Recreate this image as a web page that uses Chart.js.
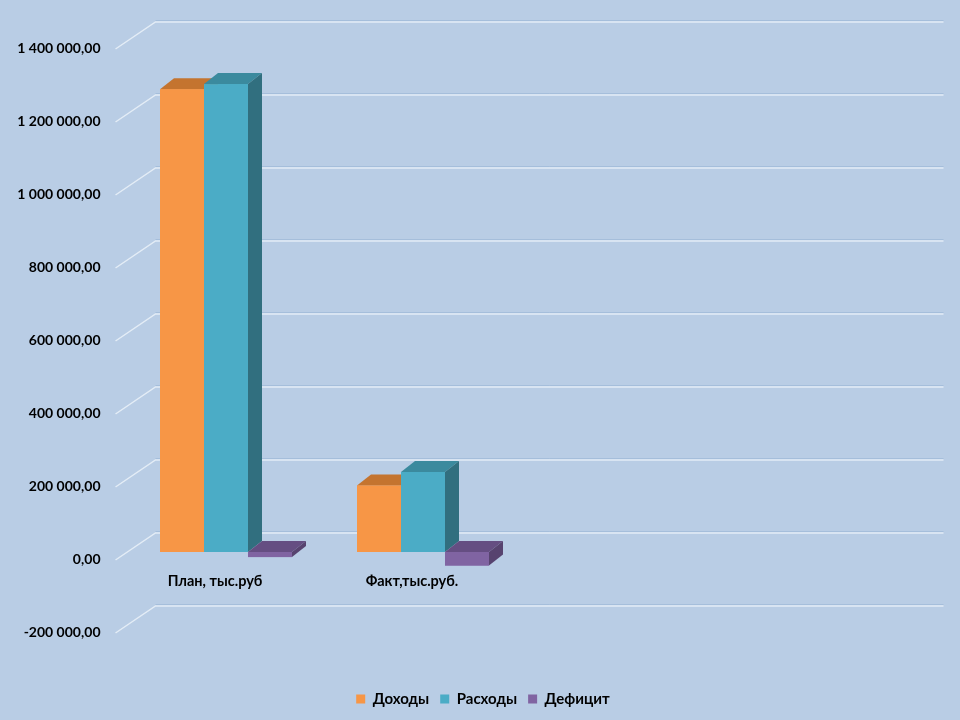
<!DOCTYPE html>
<html>
<head>
<meta charset="utf-8">
<script src="https://cdn.jsdelivr.net/npm/chart.js@4/dist/chart.umd.min.js"></script>
<style>
  html, body { margin: 0; padding: 0; background: #B9CDE5; }
  #wrap { width: 960px; height: 720px; }
</style>
</head>
<body>
<div id="wrap"><canvas id="budgetChart"></canvas></div>
<script>
// data
const categories = ['План, тыс.руб', 'Факт,тыс.руб.', '', ''];
const incomeValues = [1268000, 182000, null, null];
const expenseValues = [1282000, 219000, null, null];
const deficitValues = [-14000, -37000, null, null];
const seriesNames = ['Доходы', 'Расходы', 'Дефицит'];
const yMin = -200000, yMax = 1400000, yStep = 200000;

// front / top / side shades for each series
const faceColors = [
    { front: '#F79646', top: '#C4742F', side: '#B0662A' },
    { front: '#4BACC6', top: '#3B8A9E', side: '#316F7F' },
    { front: '#8064A2', top: '#654E82', side: '#57436F' }
];

// depth of a bar and of the back wall
const barDX = 14, barDY = -11;
const wallBackDX = 28, wallBackDY = -19, wallFrontDX = -12, wallFrontDY = 8;

function fmt(v) {
    const neg = v < 0;
    let s = Math.abs(v).toFixed(0).replace(/\B(?=(\d{3})+(?!\d))/g, ' ');
    return (neg ? '-' : '') + s + ',00';
}

// draws the walls/grid and the 3d sides of the bars
const threeD = {
    id: 'threeD',
    beforeDatasetsDraw(chart) {
        const ctx = chart.ctx, y = chart.scales.y, a = chart.chartArea;
        ctx.save();
        for (let v = yMin; v <= yMax; v += yStep) {
            const py = y.getPixelForValue(v);
            ctx.lineWidth = 1.5;
            ctx.strokeStyle = 'rgba(232,239,247,0.9)';
            ctx.beginPath();
            ctx.moveTo(a.left + wallFrontDX, py + wallFrontDY);
            ctx.lineTo(a.left + wallBackDX, py + wallBackDY);
            ctx.lineTo(a.right + wallBackDX, py + wallBackDY);
            ctx.stroke();
            ctx.strokeStyle = 'rgba(160,186,216,0.8)';
            ctx.lineWidth = 1;
            ctx.beginPath();
            ctx.moveTo(a.left + wallBackDX, py + wallBackDY - 1.5);
            ctx.lineTo(a.right + wallBackDX, py + wallBackDY - 1.5);
            ctx.stroke();
        }
        ctx.restore();
    },
    afterDatasetsDraw(chart) {
        const ctx = chart.ctx;
        const bars = [];
        chart.data.datasets.forEach((ds, di) => {
            chart.getDatasetMeta(di).data.forEach((el, i) => {
                if (ds.data[i] === null) return;
                const p = el.getProps(['x', 'y', 'base', 'width'], true);
                bars.push({
                    left: p.x - p.width / 2, right: p.x + p.width / 2,
                    top: Math.min(p.y, p.base), bottom: Math.max(p.y, p.base),
                    c: faceColors[di]
                });
            });
        });
        // left to right so each bar hides the side of the one before
        bars.sort((m, n) => m.left - n.left);
        bars.forEach(b => {
            ctx.fillStyle = b.c.top;
            ctx.beginPath();
            ctx.moveTo(b.left, b.top);
            ctx.lineTo(b.left + barDX, b.top + barDY);
            ctx.lineTo(b.right + barDX, b.top + barDY);
            ctx.lineTo(b.right, b.top);
            ctx.closePath();
            ctx.fill();
            ctx.fillStyle = b.c.side;
            ctx.beginPath();
            ctx.moveTo(b.right, b.top);
            ctx.lineTo(b.right + barDX, b.top + barDY);
            ctx.lineTo(b.right + barDX, b.bottom + barDY);
            ctx.lineTo(b.right, b.bottom);
            ctx.closePath();
            ctx.fill();
            ctx.fillStyle = b.c.front;
            ctx.fillRect(b.left, b.top, b.right - b.left, b.bottom - b.top);
        });
    }
};

new Chart(document.getElementById('budgetChart'), {
    type: 'bar',
    data: {
        labels: categories,
        datasets: [
            { label: seriesNames[0], data: incomeValues, backgroundColor: faceColors[0].front },
            { label: seriesNames[1], data: expenseValues, backgroundColor: faceColors[1].front },
            { label: seriesNames[2], data: deficitValues, backgroundColor: faceColors[2].front }
        ]
    },
    options: {
        responsive: true,
        maintainAspectRatio: false,
        animation: false,
        categoryPercentage: 0.67,
        barPercentage: 1.0,
        layout: { padding: { left: 17.5, right: 11.5, top: 41, bottom: 3.6 } },
        plugins: {
            legend: {
                position: 'bottom',
                title: { display: true, text: '', padding: { top: 41, bottom: 0 } },
                labels: {
                    font: { family: 'Lato', size: 15, weight: 'bold' },
                    color: '#000', boxWidth: 9, boxHeight: 9, padding: 11
                }
            },
            tooltip: { enabled: false }
        },
        scales: {
            x: {
                position: { y: 0 },
                grid: { display: false },
                border: { display: false },
                ticks: {
                    font: { family: 'Lato', size: 14.5, weight: 'bold' },
                    color: '#000', padding: 13, labelOffset: -11
                }
            },
            y: {
                min: yMin, max: yMax,
                grid: { display: false, drawTicks: false },
                border: { display: false },
                afterFit(scale) { scale.width = 110; },
                ticks: {
                    stepSize: yStep,
                    font: { family: 'Lato', size: 14, weight: 'bold' },
                    color: '#000', padding: 27, labelOffset: 7,
                    callback: v => fmt(v)
                }
            },
            // empty strip on the right for the back wall depth
            yRight: {
                position: 'right',
                grid: { display: false },
                border: { display: false },
                ticks: { display: false },
                afterFit(scale) { scale.width = 33; }
            }
        }
    },
    plugins: [threeD]
});
</script>
</body>
</html>
